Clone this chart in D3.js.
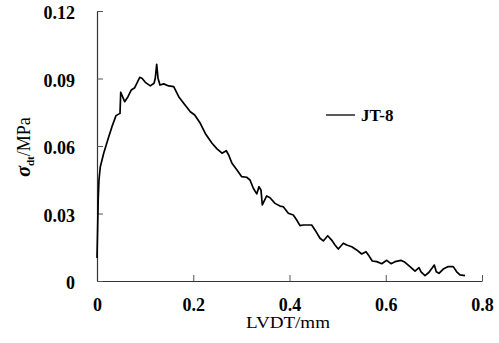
<!DOCTYPE html>
<html><head><meta charset="utf-8">
<script src="https://cdn.jsdelivr.net/npm/d3@7"></script>
<style>body{margin:0;background:#fff}svg{display:block}</style>
</head><body>
<svg id="c" width="499" height="343"></svg>
<script>
const seriesName = "JT-8";
const xTicks = [0, 0.2, 0.4, 0.6, 0.8];
const yTicks = [0, 0.03, 0.06, 0.09, 0.12];
const xTickLabels = ["0", "0.2", "0.4", "0.6", "0.8"];
const yTickLabels = ["0", "0.03", "0.06", "0.09", "0.12"];
const lvdt = [0,0.00125,0.0025,0.0041,0.0069,0.0139,0.0244,0.0311,0.0395,0.0478,0.0493,0.0575,0.0644,0.0713,0.0784,0.0888,0.0935,0.1004,0.1108,0.1185,0.1211,0.1240,0.1268,0.1309,0.1386,0.1490,0.1594,0.1698,0.1801,0.1939,0.2030,0.2146,0.2250,0.2390,0.2494,0.2598,0.2686,0.2736,0.2805,0.2909,0.3003,0.3110,0.3179,0.3248,0.3319,0.3366,0.3408,0.3435,0.3526,0.3595,0.3699,0.3803,0.3871,0.3975,0.4079,0.4150,0.4218,0.4286,0.4461,0.4530,0.4634,0.4703,0.4794,0.4876,0.4945,0.5014,0.5118,0.5189,0.5293,0.5396,0.5500,0.5590,0.5638,0.5720,0.5813,0.5916,0.6020,0.6109,0.6193,0.6316,0.6400,0.6504,0.6608,0.6691,0.6733,0.6815,0.6899,0.7009,0.7050,0.7106,0.7195,0.7299,0.7403,0.7474,0.7543,0.7646];
const stress = [0.0102,0.0227,0.0360,0.0449,0.0508,0.0568,0.0641,0.0686,0.0735,0.0745,0.0839,0.0797,0.0819,0.0849,0.0859,0.0905,0.0901,0.0883,0.0867,0.0879,0.0901,0.0963,0.0901,0.0871,0.0876,0.0867,0.0864,0.0819,0.0790,0.0752,0.0738,0.0701,0.0656,0.0612,0.0587,0.0568,0.0579,0.0560,0.0523,0.0493,0.0464,0.0461,0.0449,0.0412,0.0387,0.0419,0.0404,0.0338,0.0378,0.0370,0.0345,0.0333,0.0330,0.0301,0.0293,0.0271,0.0246,0.0249,0.0249,0.0227,0.0190,0.0178,0.0201,0.0182,0.0160,0.0142,0.0168,0.0160,0.0152,0.0138,0.0120,0.0130,0.0116,0.0089,0.0086,0.0077,0.0092,0.0077,0.0086,0.0092,0.0083,0.0064,0.0044,0.0059,0.0041,0.0024,0.0039,0.0071,0.0041,0.0034,0.0053,0.0064,0.0064,0.0041,0.0027,0.0024];

const svg = d3.select("#c");
const x = d3.scaleLinear().domain([0, 0.8]).range([97, 482]);
const y = d3.scaleLinear().domain([0, 0.12]).range([281, 11]);
const serif = "'Liberation Serif','Times New Roman',serif";

const gx = svg.append("g").attr("transform", "translate(0,281)")
  .call(d3.axisBottom(x).tickValues(xTicks).tickFormat((d,i)=>xTickLabels[i]).tickSizeInner(-6).tickSizeOuter(0).tickPadding(17));
const gy = svg.append("g").attr("transform", "translate(97,0)")
  .call(d3.axisLeft(y).tickValues(yTicks).tickFormat((d,i)=>yTickLabels[i]).tickSizeInner(-6).tickSizeOuter(0).tickPadding(22));
[gx, gy].forEach(g => {
  g.select(".domain").attr("stroke", "#333").attr("stroke-width", 1.2);
  g.selectAll(".tick line").attr("stroke", "#555").attr("stroke-width", 1);
  g.selectAll("text").attr("font-family", serif).attr("font-weight", "bold").attr("font-size", 18).attr("fill", "#000");
});
gy.selectAll("text").attr("dy", "0.42em");

const line = d3.line().x((d,i)=>x(lvdt[i])).y((d,i)=>y(stress[i]));
svg.append("path").datum(stress).attr("d", line).attr("fill", "none")
  .attr("stroke", "#000").attr("stroke-width", 1.7).attr("stroke-linejoin", "round");

svg.append("text").attr("x", 246).attr("y", 328)
  .attr("textLength", 84).attr("lengthAdjust", "spacingAndGlyphs")
  .attr("font-family", serif).attr("font-size", 16).attr("fill", "#000").text("LVDT/mm");

const yl = svg.append("text").attr("transform", "translate(30,147) rotate(-90)")
  .attr("text-anchor", "middle").attr("font-family", serif).attr("fill", "#000").attr("font-size", 18);
yl.append("tspan").attr("font-style", "italic").attr("font-weight", "bold").attr("font-size", 20).text("σ");
yl.append("tspan").attr("font-size", 11).attr("font-weight", "bold").attr("dy", 4).text("dt");
yl.append("tspan").attr("dy", -4).text("/MPa");

svg.append("line").attr("x1", 326).attr("x2", 355).attr("y1", 115).attr("y2", 115).attr("stroke", "#000").attr("stroke-width", 1.3);
svg.append("text").attr("x", 361).attr("y", 121).attr("font-family", serif).attr("font-weight", "bold").attr("font-size", 17).attr("fill", "#000").text(seriesName);
</script>
</body></html>
